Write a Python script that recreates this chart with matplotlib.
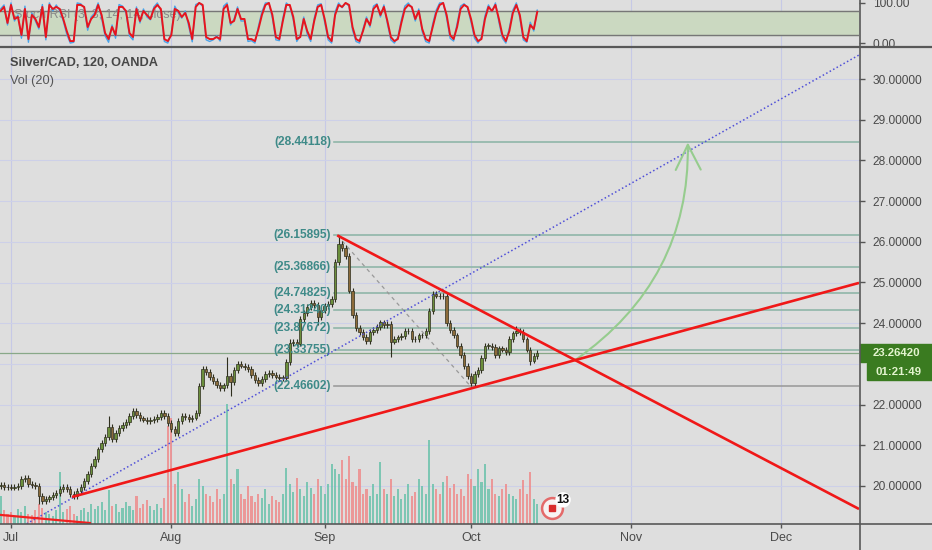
import numpy as np
import matplotlib
matplotlib.use('Agg')
import matplotlib.pyplot as plt
from matplotlib.patches import Rectangle, FancyArrowPatch
from matplotlib.path import Path
from matplotlib.lines import Line2D

W, H = 932, 550
BG = '#dedede'
FONT = 'Liberation Sans'

# ---------------- data ----------------
bar_start = -1.5          # trading days from Jul 1 (weekends removed)
bar_step = 0.5            # half-day bars
first_open = 20.0
closes = [
    20.02, 19.98, 19.97, 19.96, 19.98, 20.00, 20.18, 20.20, 20.05, 20.03,
    20.00, 19.75, 19.62, 19.68, 19.72, 19.78, 19.83, 19.92, 19.98, 19.92,
    19.80, 19.76, 19.88, 19.97, 20.12, 20.30, 20.50, 20.66, 20.90, 21.05,
    21.20, 21.45, 21.15, 21.30, 21.42, 21.50, 21.58, 21.72, 21.84, 21.75,
    21.66, 21.63, 21.60, 21.62, 21.64, 21.70, 21.80, 21.72, 21.55, 21.40,
    21.30, 21.60, 21.72, 21.70, 21.64, 21.68, 21.80, 22.45, 22.88, 22.80,
    22.68, 22.58, 22.48, 22.40, 22.47, 22.70, 22.55, 22.85, 23.00, 22.96,
    22.92, 22.88, 22.72, 22.60, 22.52, 22.63, 22.75, 22.78, 22.72, 22.69,
    22.66, 22.66, 23.05, 23.52, 23.53, 23.50, 24.10, 24.25, 24.40, 24.50,
    24.45, 24.15, 24.32, 24.42, 24.47, 24.60, 25.50, 25.95, 25.85, 25.65,
    24.80, 24.20, 23.88, 23.78, 23.66, 23.57, 23.78, 23.84, 23.90, 24.02,
    23.95, 23.98, 23.55, 23.62, 23.65, 23.68, 23.80, 23.82, 23.62, 23.60,
    23.70, 23.70, 23.80, 24.30, 24.72, 24.68, 24.66, 24.68, 24.00, 23.83,
    23.70, 23.45, 23.22, 22.95, 22.70, 22.52, 22.75, 22.85, 23.15, 23.44,
    23.45, 23.42, 23.22, 23.38, 23.35, 23.30, 23.62, 23.75, 23.80, 23.78,
    23.60, 23.35, 23.08, 23.20, 23.26,
]
typical_wick = 0.07
high_spikes = {31: 21.72, 65: 23.17, 83: 23.60, 97: 26.16, 124: 24.80, 148: 23.92}
low_spikes = {11: 19.55, 66: 22.20, 91: 23.95, 112: 23.17, 135: 22.47, 152: 22.98}

volumes = [
    28, 14, 10, 12, 8, 15, 12, 18, 10, 9, 14, 20, 16, 12, 10, 8, 14, 52, 12, 15,
    18, 10, 8, 14, 16, 12, 20, 15, 18, 22, 14, 34, 18, 20, 12, 16, 22, 18, 14, 28,
    16, 20, 24, 18, 14, 20, 16, 26, 98, 106,
    40, 52, 35, 22, 30, 18, 25, 45, 38, 30, 28, 22, 35, 25, 30, 120, 45, 40, 55, 30,
    25, 38, 28, 22, 30, 26, 35, 20, 28, 24, 22, 30, 56, 40, 32, 46, 35, 28, 42, 36,
    30, 45, 38, 30, 40, 60, 55, 50, 64, 45,
    68, 42, 38, 55, 30, 35, 28, 40, 30, 62, 35, 30, 45, 28, 35, 25, 30, 40, 28, 32,
    45, 38, 30, 84, 40, 35, 30, 42, 48, 36, 40, 30, 35, 28, 50, 45, 38, 55, 42, 60,
    35, 45, 30, 28, 35, 40, 30, 28, 25, 35, 44, 30, 52, 25, 20,
]

stoch_d = [
    80, 90, 50, 95, 60, 65, 20, 85, 10, 70,
    60, 40, 90, 15, 95, 85, 90, 85, 60, 30,
    5, 5, 95, 95, 90, 40, 60, 70, 95, 70,
    25, 10, 40, 20, 90, 90, 80, 25, 15, 85,
    55, 80, 70, 60, 85, 95, 85, 10, 5, 20,
    85, 80, 65, 75, 50, 10, 90, 100, 95, 15,
    10, 10, 15, 10, 85, 95, 50, 55, 85, 60,
    60, 10, 10, 5, 35, 70, 95, 100, 70, 15,
    10, 55, 95, 95, 65, 10, 15, 60, 30, 10,
    55, 90, 95, 60, 15, 5, 70, 95, 90, 100,
    95, 40, 10, 5, 30, 60, 45, 85, 95, 70,
    90, 55, 15, 5, 10, 50, 85, 95, 90, 60,
    80, 35, 10, 5, 40, 75, 95, 100, 70, 20,
    10, 40, 85, 95, 90, 60, 20, 5, 10, 60,
    90, 80, 95, 60, 20, 5, 30, 75, 95, 70,
    15, 5, 45, 35, 78,
]
stoch_k = [
    85, 95, 45, 100, 55, 70, 12, 92, 2, 75,
    55, 35, 96, 8, 100, 80, 95, 80, 55, 22,
    0, 2, 100, 98, 88, 32, 65, 75, 100, 62,
    18, 2, 45, 12, 96, 92, 75, 18, 8, 90,
    50, 85, 65, 58, 90, 100, 80, 4, 0, 25,
    92, 75, 62, 80, 42, 3, 96, 100, 92, 8,
    4, 8, 18, 5, 92, 100, 45, 60, 90, 55,
    55, 4, 6, 0, 42, 78, 100, 100, 62, 8,
    6, 62, 100, 92, 58, 4, 18, 65, 22, 4,
    62, 95, 98, 52, 8, 0, 78, 100, 88, 100,
    92, 32, 4, 0, 35, 65, 40, 92, 98, 65,
    95, 48, 8, 0, 15, 58, 92, 100, 88, 55,
    85, 28, 4, 0, 48, 82, 100, 100, 62, 12,
    5, 48, 92, 98, 88, 52, 12, 0, 15, 68,
    95, 78, 100, 52, 12, 0, 38, 82, 100, 62,
    8, 2, 52, 30, 82,
]

month_labels = ['Jul', 'Aug', 'Sep', 'Oct', 'Nov', 'Dec']
month_pos = [0, 23, 45, 66, 89, 110.5]
price_grid = [20, 21, 22, 23, 24, 25, 26, 27, 28, 29, 30]
price_labels = [20, 21, 22, 24, 25, 26, 27, 28, 29, 30]   # 23 is hidden behind the last-price tag
fib_levels = [28.44118, 26.15895, 25.36866, 24.74825, 24.31240, 23.87672, 23.33755, 22.46602]
last_price = 23.26420
countdown = '01:21:49'

fib_peak = (46.8, 26.15895)
fib_trough = (65.85, 22.46602)
desc_line = [(46.8, 26.159), (121.66, 19.435)]
asc_line = [(8.75, 19.73), (121.66, 24.99)]
blue_line = [(2.44, 19.09), (121.66, 30.59)]
small_red = [(-1.58, 19.29), (11.33, 19.09)]
arrow_ctrl = (97.4, 25.06)
arrow_end = (97.1, 28.44118)
event_pos = (77.6, 19.46)
event_count = '13'

XLIM = (-1.578, 121.66)
YLIM = (19.066, 30.762)
SLIM = (-7.3, 107.3)

# ---------------- figure ----------------
fig = plt.figure(figsize=(W / 100, H / 100), dpi=100, facecolor=BG)


def fx(px):
    return px / W


def fy(py):
    return 1 - py / H


main_rect = [0, fy(524), fx(859), (524 - 48) / H]
stoch_rect = [0, fy(46), fx(859), 46 / H]

ax_vol = fig.add_axes(main_rect, facecolor=BG)
ax = fig.add_axes(main_rect, facecolor='none')
ax_s = fig.add_axes(stoch_rect, facecolor=BG)

n = len(closes)
xs = np.array([bar_start + bar_step * i for i in range(n)])
c = np.array(closes)
o = np.concatenate([[first_open], c[:-1]])
hi = np.maximum(o, c) + typical_wick
lo = np.minimum(o, c) - typical_wick
for k, v in high_spikes.items():
    hi[k] = max(hi[k], v)
for k, v in low_spikes.items():
    lo[k] = min(lo[k], v)
up = c >= o

# grid
for a in (ax_vol, ax_s):
    for m in month_pos:
        a.axvline(m, color='#c6c9e6', lw=0.8, zorder=0)
for p in price_grid:
    ax_vol.axhline((p - YLIM[0]) / (YLIM[1] - YLIM[0]) * 476, color='#cdd0e8', lw=0.8, zorder=0)

# volume
vcol = np.where(up, '#6cc2ac', '#ee8c8c')
ax_vol.bar(xs, volumes, width=0.3, color=vcol, alpha=0.85, zorder=1, linewidth=0)
ax_vol.set_xlim(*XLIM)
ax_vol.set_ylim(0, 476)
ax_vol.axis('off')

# fib levels
fib_x0 = 46.3
for lv in fib_levels:
    col = '#9c9c9c' if lv == fib_levels[-1] else '#8fb6a9'
    ax.plot([fib_x0, XLIM[1]], [lv, lv], color=col, lw=1.2, zorder=2)
    ax.text(45.9, lv, '(%.5f)' % lv, ha='right', va='center', fontsize=8.6,
            color='#3e8a88', family=FONT, fontweight='bold', zorder=6)

# last price line
ax.axhline(last_price, color='#88a888', lw=0.9, zorder=2)

# fib diagonal
ax.plot([fib_peak[0], fib_trough[0]], [fib_peak[1], fib_trough[1]],
        color='#999999', lw=0.9, ls=(0, (3, 3)), zorder=3)

# candles
ax.vlines(xs, lo, hi, color='#2e2e1e', lw=0.8, zorder=4)
body_b = np.minimum(o, c)
body_h = np.maximum(np.abs(c - o), 0.015)
ax.bar(xs, body_h, bottom=body_b, width=0.34,
       color=np.where(up, '#6b8f3c', '#8c6b3a'), edgecolor='#2e2e1e', linewidth=0.5, zorder=5)


def extend(p1, p2):
    (x1, y1), (x2, y2) = p1, p2
    s = (y2 - y1) / (x2 - x1)
    return s, y1 - s * x1


# blue dotted line
s_b, b_b = extend(*blue_line)
ax.plot([XLIM[0] - 5, XLIM[1]], [s_b * (XLIM[0] - 5) + b_b, s_b * XLIM[1] + b_b],
        color='#5050d8', lw=1.1, ls=(0, (1, 1.6)), zorder=6)

# red trend lines
s_d, b_d = extend(*desc_line)
ax.plot([desc_line[0][0], XLIM[1]], [desc_line[0][1], s_d * XLIM[1] + b_d],
        color='#f01818', lw=1.9, zorder=7, solid_capstyle='butt')
s_a, b_a = extend(*asc_line)
ax.plot([asc_line[0][0], XLIM[1]], [asc_line[0][1], s_a * XLIM[1] + b_a],
        color='#f01818', lw=1.9, zorder=7, solid_capstyle='butt')
ax.plot([small_red[0][0], small_red[1][0]], [small_red[0][1], small_red[1][1]],
        color='#f02020', lw=1.6, zorder=7)

# green projection arrow from the triangle apex
x_int = (b_a - b_d) / (s_d - s_a)
y_int = s_d * x_int + b_d
arrow_path = Path([(x_int, y_int), arrow_ctrl, arrow_end], [Path.MOVETO, Path.CURVE3, Path.CURVE3])
arr = FancyArrowPatch(path=arrow_path, arrowstyle='->,head_length=0.9,head_width=0.45',
                      mutation_scale=20, color='#96cc8e', lw=1.5, zorder=6)
ax.add_patch(arr)

# event marker
ax.plot([event_pos[0]], [event_pos[1]], marker='o', ms=15, mfc='#f7f2f2', mec='#e46a6a', mew=1.8, zorder=8)
ax.plot([event_pos[0]], [event_pos[1]], marker='s', ms=5, mfc='#d92b2b', mec='#d92b2b', zorder=9)
ax.text(event_pos[0] + 1.6, event_pos[1] + 0.2, event_count, fontsize=8.5, fontweight='bold',
        color='#111111', family=FONT, ha='center', va='center', zorder=10,
        bbox=dict(boxstyle='circle,pad=0.1', fc='white', ec='none'))

ax.set_xlim(*XLIM)
ax.set_ylim(*YLIM)
ax.yaxis.tick_right()
ax.set_yticks(price_labels)
ax.set_yticklabels(['%.5f' % p for p in price_labels])
ax.set_xticks(month_pos)
ax.set_xticklabels(month_labels)
ax.tick_params(axis='y', length=4, width=1, color='#555555', labelcolor='#4a4a4a', labelsize=8.6, pad=6)
ax.tick_params(axis='x', length=3, width=1, color='#555555', labelcolor='#4a4a4a', labelsize=9, pad=3)
for lab in ax.get_xticklabels() + ax.get_yticklabels():
    lab.set_family(FONT)
for sp in ('left', 'top', 'bottom', 'right'):
    ax.spines[sp].set_visible(False)

# ---------------- stoch RSI panel ----------------
ax_s.axhspan(20, 80, color='#cbd9c1', zorder=1)
ax_s.axhline(80, color='#777777', lw=1, zorder=2)
ax_s.axhline(20, color='#777777', lw=1, zorder=2)
ax_s.text(0.4, 70, 'Stoch RSI (3, 3, 14, 14, close)', fontsize=9, color='#8a8a8a', family=FONT,
          va='center', ha='left', zorder=2)
ax_s.plot(xs, stoch_k, color='#4aa3e8', lw=1.0, zorder=3)
ax_s.plot(xs, stoch_d, color='#e8141c', lw=1.4, zorder=4)
ax_s.set_xlim(*XLIM)
ax_s.set_ylim(*SLIM)
ax_s.yaxis.tick_right()
ax_s.set_yticks([0, 100])
ax_s.set_yticklabels(['0.00', '100.00'])
ax_s.set_xticks([])
ax_s.tick_params(axis='y', length=4, width=1, color='#555555', labelcolor='#4a4a4a', labelsize=8.6, pad=6)
for lab in ax_s.get_yticklabels():
    lab.set_family(FONT)
for sp in ax_s.spines.values():
    sp.set_visible(False)

# ---------------- frame lines ----------------
fig.add_artist(Line2D([0, 1], [fy(47), fy(47)], color='#585858', lw=1.6, transform=fig.transFigure))
fig.add_artist(Line2D([0, 1], [fy(524), fy(524)], color='#585858', lw=1.2, transform=fig.transFigure))
fig.add_artist(Line2D([fx(859.5), fx(859.5)], [0, 1], color='#585858', lw=1.2, transform=fig.transFigure))

# titles
fig.text(fx(10), fy(63), 'Silver/CAD, 120, OANDA', fontsize=9.2, fontweight='bold', color='#474747',
         family=FONT, va='center', ha='left')
fig.text(fx(10), fy(81), 'Vol (20)', fontsize=9.2, color='#555555', family=FONT, va='center', ha='left')

# last price & countdown labels
fig.add_artist(Rectangle((fx(860), fy(362)), fx(72), 18 / H, color='#3a7b20', transform=fig.transFigure))
fig.text(fx(896), fy(352.5), '%.5f' % last_price, fontsize=8.2, fontweight='bold', color='#e3f4cf',
         family=FONT, ha='center', va='center')
fig.add_artist(Rectangle((fx(867), fy(380)), fx(65), 17 / H, color='#3a7b20', transform=fig.transFigure))
fig.text(fx(899), fy(372), countdown, fontsize=8.2, fontweight='bold', color='#e3f4cf',
         family=FONT, ha='center', va='center')

fig.savefig('out.png', dpi=100, facecolor=BG)
